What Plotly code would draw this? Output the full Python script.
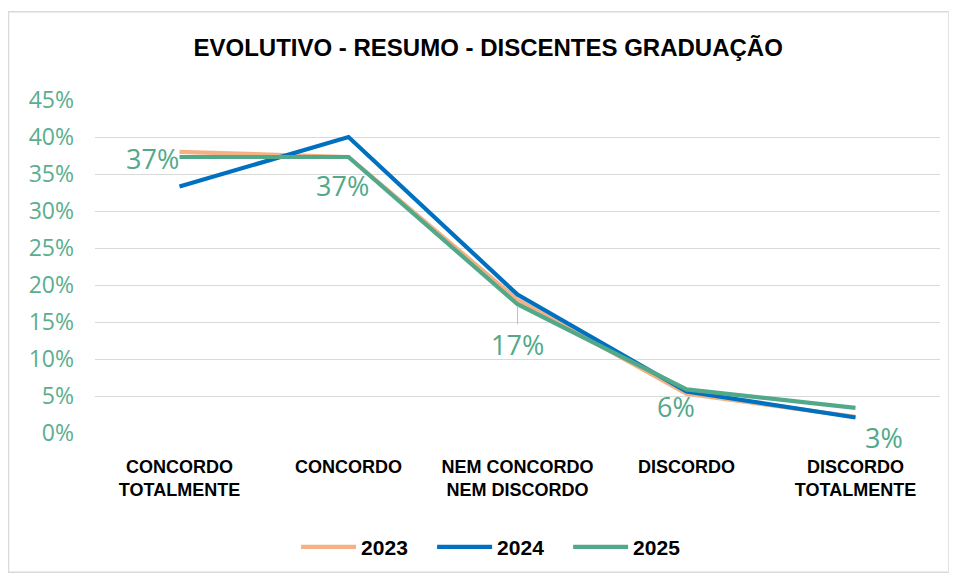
import plotly.graph_objects as go

categories = ["CONCORDO<br>TOTALMENTE", "CONCORDO", "NEM CONCORDO<br>NEM DISCORDO", "DISCORDO", "DISCORDO<br>TOTALMENTE"]
v2023 = [0.380, 0.373, 0.180, 0.053, 0.022]
v2024 = [0.333, 0.400, 0.187, 0.056, 0.021]
v2025 = [0.373, 0.373, 0.174, 0.059, 0.034]
labels2025 = ["37%", "37%", "17%", "6%", "3%"]

c2023 = "#F4B183"
c2024 = "#0070C0"
c2025 = "#52A98A"
tick_green = "#5BAE8D"
boldfont = "Liberation Sans, Arial, sans-serif"
numfont = "Open Sans, sans-serif"

fig = go.Figure()
for name, vals, col in [("2023", v2023, c2023), ("2024", v2024, c2024), ("2025", v2025, c2025)]:
    fig.add_trace(go.Scatter(x=categories, y=vals, mode="lines", name=name,
                             line=dict(color=col, width=4.2)))

# data labels for 2025 (pixel offsets from the point)
offsets = [(-27, 2), (-6, 29), (0, 40), (-11, 17), (28, 30)]
for i, (cat, v, lab) in enumerate(zip(categories, v2025, labels2025)):
    dx, dy = offsets[i]
    if i == 2:
        fig.add_annotation(x=cat, y=v, text=lab, showarrow=True, arrowhead=0, arrowwidth=1,
                           arrowcolor="#BFBFBF", ax=dx, ay=dy, standoff=2,
                           font=dict(size=27, color=c2025, family=numfont))
    else:
        fig.add_annotation(x=cat, y=v, text=lab, showarrow=False, xshift=dx, yshift=-dy,
                           font=dict(size=27, color=c2025, family=numfont))

fig.update_layout(
    width=949, height=572,
    paper_bgcolor="white", plot_bgcolor="white",
    margin=dict(l=87, r=17, t=92, b=142),
    title=dict(text="<b>EVOLUTIVO - RESUMO - DISCENTES GRADUAÇÃO</b>", x=0.506, xanchor="center",
               y=0.930, yanchor="middle",
               font=dict(size=24, color="#000000", family=boldfont)),
    xaxis=dict(showgrid=False, showline=False, zeroline=False, ticks="", automargin=False,
               range=[-0.5, 4.5], ticklabelstandoff=21,
               tickfont=dict(size=18, color="#000000", family=boldfont, weight="bold")),
    yaxis=dict(range=[0, 0.45], dtick=0.05, tickformat=".0%", showgrid=True, automargin=False,
               gridcolor="#D9D9D9", gridwidth=1.4, zeroline=False, showline=False,
               ticks="", ticklabelstandoff=20,
               tickfont=dict(size=23, color=tick_green, family=numfont)),
    legend=dict(orientation="h", x=0.238, xanchor="left", y=-0.343, yanchor="middle",
                font=dict(size=21, color="#000000", family=boldfont, weight="bold"),
                entrywidth=66, entrywidthmode="pixels", itemwidth=55),
    shapes=[dict(type="rect", xref="paper", yref="paper",
                 x0=-0.1024, x1=1.0107, y0=-0.418, y1=1.2647,
                 line=dict(color="#D9D9D9", width=1.5), fillcolor="rgba(0,0,0,0)", layer="below")],
)

fig.write_html("out.html")
